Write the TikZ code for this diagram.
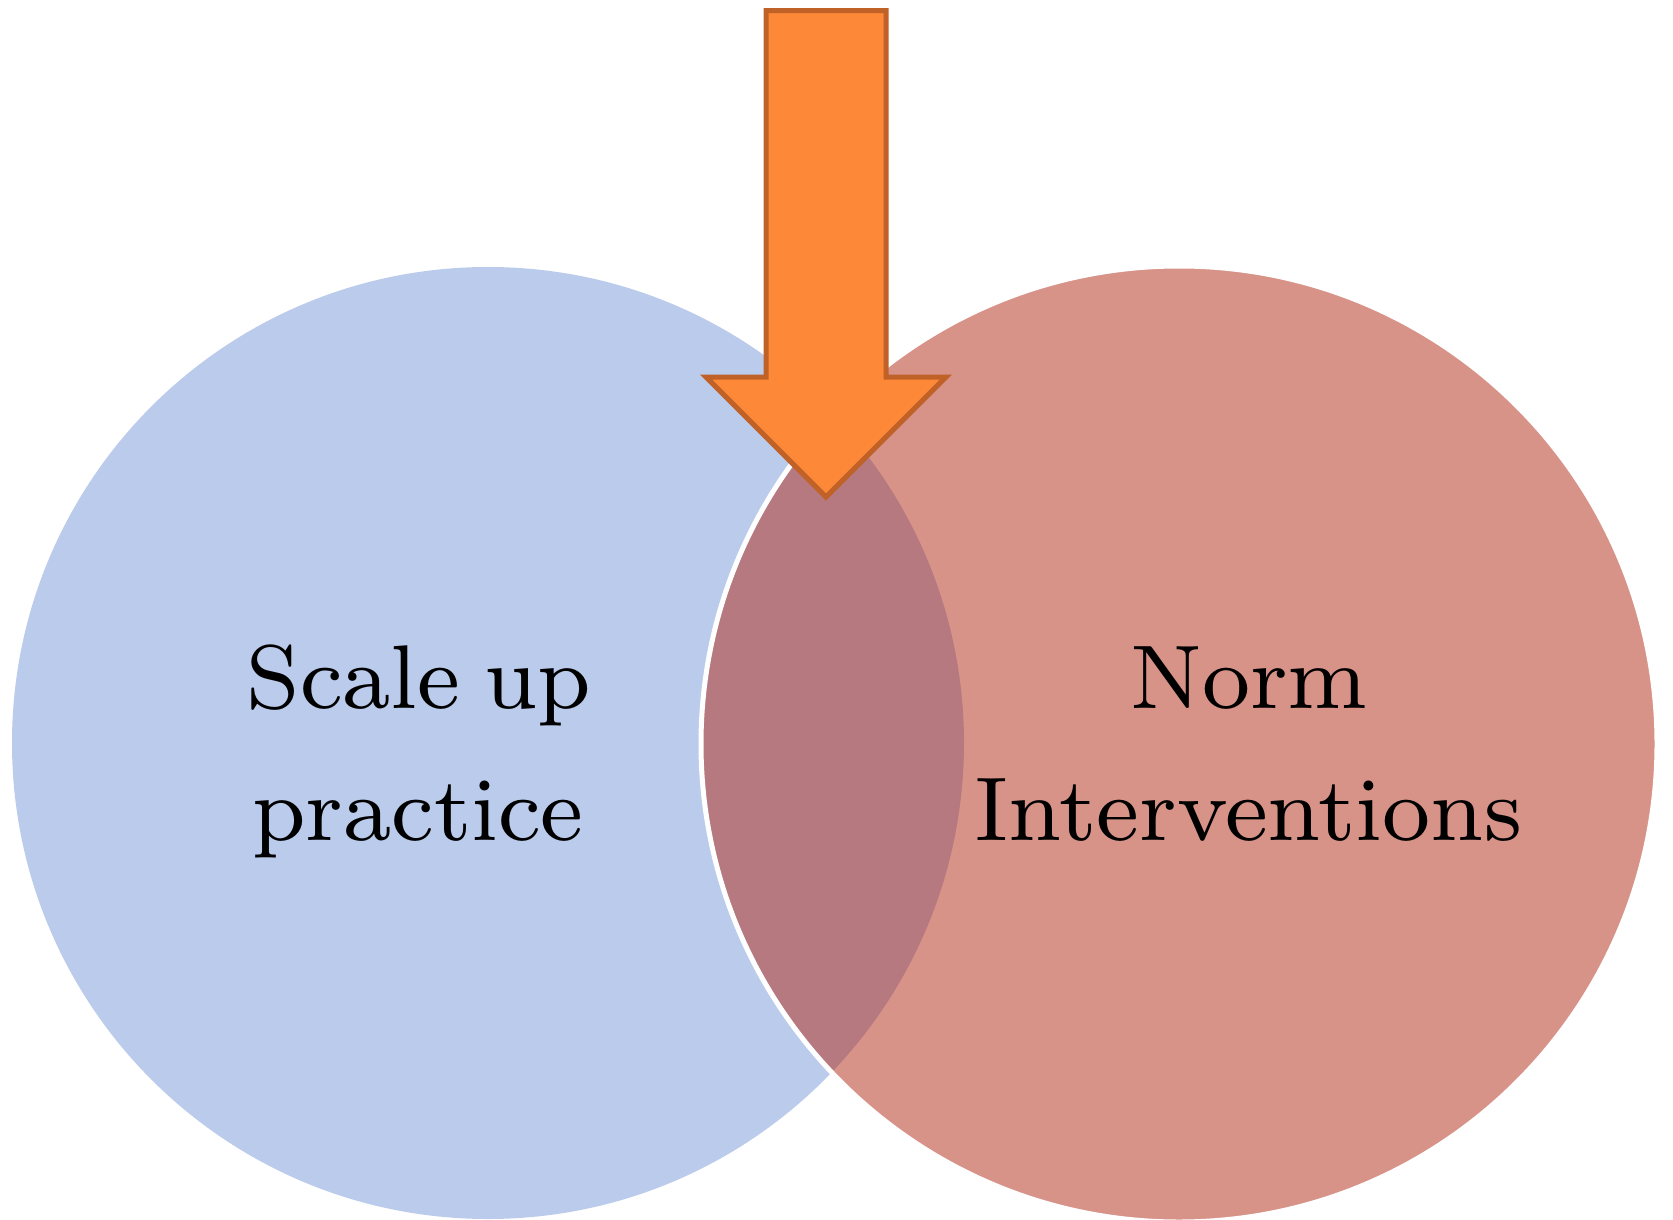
\documentclass[tikz,border=0pt]{standalone}
\usepackage{fontspec}
\newfontfamily\labelfont[WordSpace=0.75]{lmroman8-regular.otf}
\definecolor{leftblue}{RGB}{187,203,235}
\definecolor{rightred}{RGB}{179,41,21}
\definecolor{arrowfill}{RGB}{253,136,56}
\definecolor{arrowedge}{RGB}{192,98,40}
\tikzset{
  setcircle/.style={circle, inner sep=0pt},
  labeltext/.style={font=\labelfont\fontsize{90.5}{110}\selectfont, inner sep=0pt, anchor=base},
  arrowbox/.style={fill=arrowfill, draw=arrowedge, line width=5pt, line join=miter}
}
\begin{document}
\begin{tikzpicture}[x=1pt,y=-1pt]
\useasboundingbox (0,0) rectangle (1673,1220);
\fill[white] (0,0) rectangle (1673,1220);
\node[setcircle, minimum size=952pt, fill=leftblue] (L) at (488,743) {};
\node[setcircle, minimum size=956pt, draw=white, line width=5pt, fill=rightred, fill opacity=0.5, draw opacity=1] (R) at (1179,744) {};
\node[labeltext] (s1) at (419,708) {Scale up};
\node[labeltext] (s2) at (418,840) {practice};
\node[labeltext] (n1) at (1249,708) {Norm};
\node[labeltext] (n2) at (1248,840) {Interventions};
\draw[arrowbox] (766,10.7) -- (886,10.7) -- (886,377) -- (946,377) -- (826,497) -- (706,377) -- (766,377) -- cycle;
\end{tikzpicture}
\end{document}
